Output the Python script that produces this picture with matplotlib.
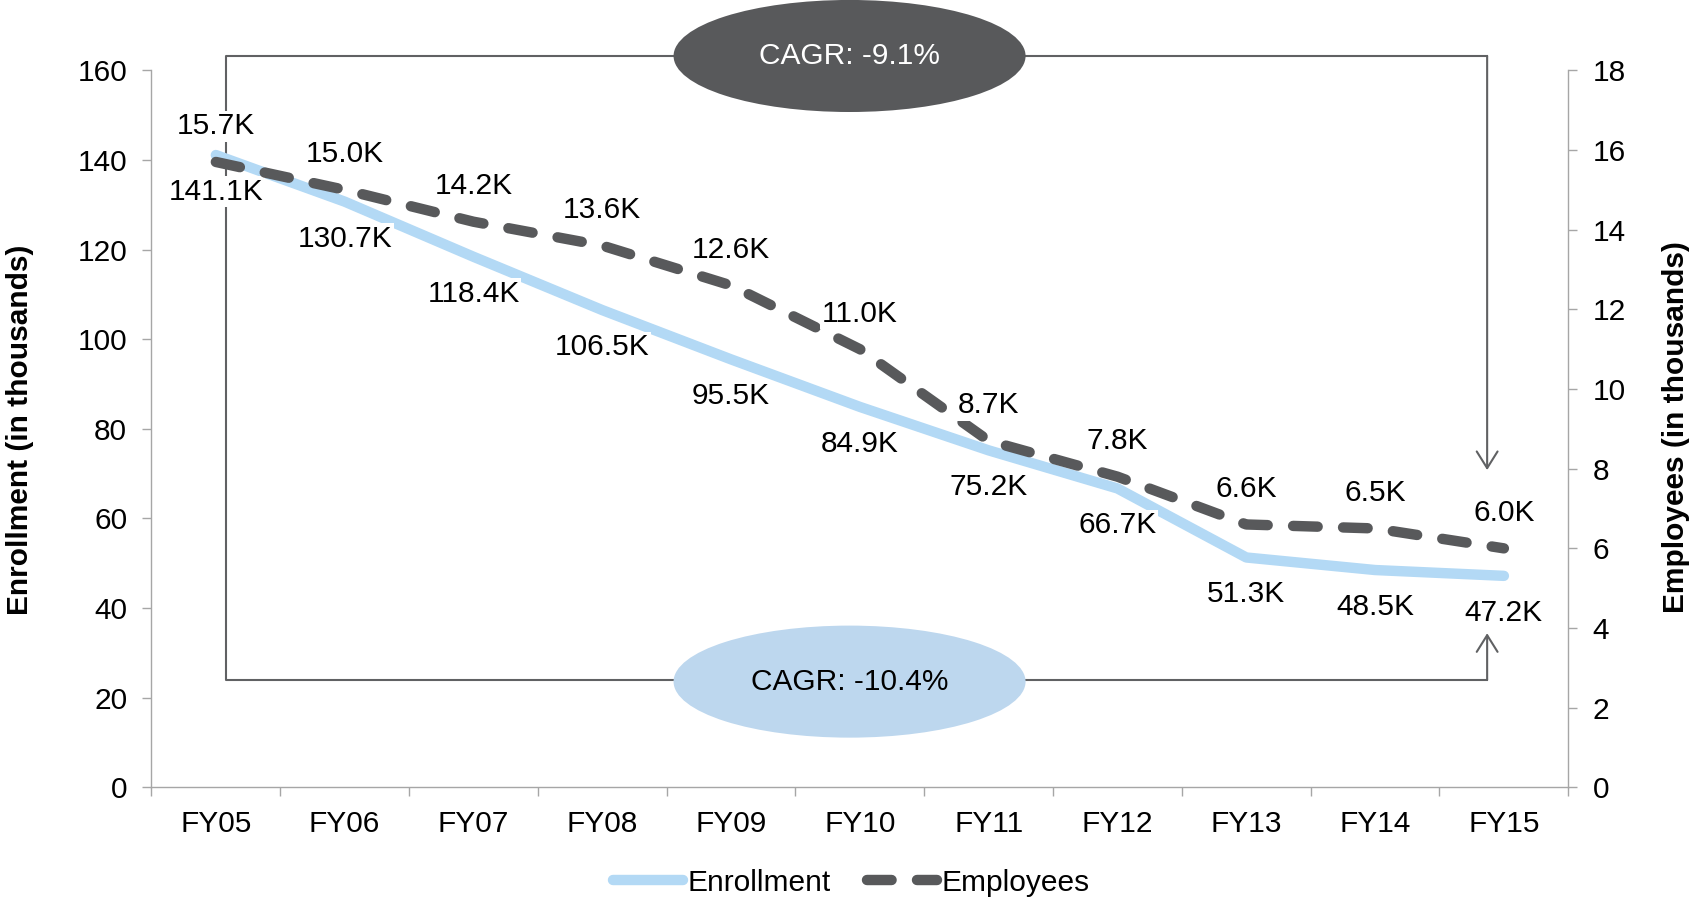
import matplotlib
matplotlib.use('Agg')
import matplotlib.pyplot as pyplot
from matplotlib.patches import Ellipse
import numpy

# Chart data
years = ['FY05', 'FY06', 'FY07', 'FY08', 'FY09', 'FY10', 'FY11', 'FY12', 'FY13', 'FY14', 'FY15']
enrollment = [141.1, 130.7, 118.4, 106.5, 95.5, 84.9, 75.2, 66.7, 51.3, 48.5, 47.2]
employees = [15.7, 15.0, 14.2, 13.6, 12.6, 11.0, 8.7, 7.8, 6.6, 6.5, 6.0]
enrollment_ticks = [0, 20, 40, 60, 80, 100, 120, 140, 160]
employee_ticks = [0, 2, 4, 6, 8, 10, 12, 14, 16, 18]
cagr_employees = 'CAGR: -9.1%'
cagr_enrollment = 'CAGR: -10.4%'

# Styles
blue = '#B3D9F5'
dark = '#58595B'
spine_gray = '#A6A6A6'
bracket_gray = '#606163'
ellipse_blue = '#BDD7EE'

pyplot.rcParams['font.family'] = ['Liberation Sans', 'DejaVu Sans']
pyplot.rcParams['font.size'] = 21.5

fig = pyplot.figure(figsize=(16.96, 8.97), dpi=100)
ax = fig.add_axes([0.0893, 0.1222, 0.8354, 0.7994])
ax2 = ax.twinx()

x = numpy.arange(len(years))

enroll_line, = ax.plot(x, enrollment, color=blue, lw=7.5, solid_capstyle='round',
                       solid_joinstyle='round', zorder=3, label='Enrollment')
emp_line, = ax2.plot(x, employees, color=dark, lw=7.5, dash_capstyle='round', zorder=3,
                     label='Employees')
emp_line.set_dashes([2.36, 2.44])

# Data labels
box = dict(boxstyle='square,pad=0.05', fc='white', ec='none')
for xi, v in zip(x, enrollment):
    ax.annotate('%.1fK' % v, (xi, v), xytext=(0, -26.6), textcoords='offset points',
                ha='center', va='center', color='black', bbox=box, zorder=4)
for xi, v in zip(x, employees):
    ax2.annotate('%.1fK' % v, (xi, v), xytext=(0, 25.6), textcoords='offset points',
                 ha='center', va='center', color='black', bbox=box, zorder=4)

# CAGR brackets
x_left, x_right = 0.077, 9.87
y_top, y_bottom = 163.2, 24.0
y_top_tip, y_bottom_tip = 70.8, 34.4
ax.plot([x_right, x_left, x_left, x_right], [y_top, y_top, y_bottom, y_bottom],
        color=bracket_gray, lw=1.5, clip_on=False, zorder=1)
arrow = dict(arrowstyle='->,head_length=0.4,head_width=0.25', color=bracket_gray, lw=1.5,
             shrinkA=0, shrinkB=0, mutation_scale=30)
ax.annotate('', xy=(x_right, y_top_tip), xytext=(x_right, y_top), arrowprops=arrow,
            annotation_clip=False, zorder=1)
ax.annotate('', xy=(x_right, y_bottom_tip), xytext=(x_right, y_bottom), arrowprops=arrow,
            annotation_clip=False, zorder=1)

x_mid = 4.92
ax.add_patch(Ellipse((x_mid, y_top), width=2.733, height=25.0, fc=dark, ec='none',
                     clip_on=False, zorder=2))
ax.text(x_mid, y_top, cagr_employees, color='white', ha='center', va='center', zorder=5,
        clip_on=False)
ax.add_patch(Ellipse((x_mid, y_bottom - 0.4), width=2.733, height=25.0, fc=ellipse_blue,
                     ec='none', clip_on=False, zorder=2))
ax.text(x_mid, y_bottom - 0.4, cagr_enrollment, color='black', ha='center', va='center',
        zorder=5)

# Axes
ax.set_xlim(-0.5, len(years) - 0.5)
ax.set_ylim(0, 160)
ax2.set_ylim(0, 18)
ax.set_xticks(x)
ax.set_xticklabels(years)
ax.set_xticks(numpy.arange(-0.5, len(years), 1), minor=True)
ax.set_yticks(enrollment_ticks)
ax2.set_yticks(employee_ticks)
ax.tick_params(axis='x', which='major', length=0, pad=16)
ax.tick_params(axis='x', which='minor', length=6.5, width=1, color=spine_gray)
ax.tick_params(axis='y', length=6.5, width=1, color=spine_gray, pad=11)
ax2.tick_params(axis='y', length=6.5, width=1, color=spine_gray, pad=11)

for a in [ax, ax2]:
    a.spines['top'].set_visible(False)
    for s in a.spines.values():
        s.set_color(spine_gray)
        s.set_linewidth(1)
ax.spines['right'].set_visible(False)
ax2.spines['left'].set_visible(False)
ax2.spines['bottom'].set_visible(False)

ax.set_ylabel('Enrollment (in thousands)', fontweight='bold', va='center')
ax.yaxis.set_label_coords(-0.0931, 0.498)
ax2.set_ylabel('Employees (in thousands)', fontweight='bold', va='center')
ax2.yaxis.set_label_coords(1.076, 0.503)

fig.legend([enroll_line, emp_line], ['Enrollment', 'Employees'], loc='center',
           bbox_to_anchor=(0.502, 0.016), ncol=2, frameon=False, handlelength=2.35,
           handletextpad=0.15, columnspacing=1.2)

fig.savefig('out.png', dpi=100)
